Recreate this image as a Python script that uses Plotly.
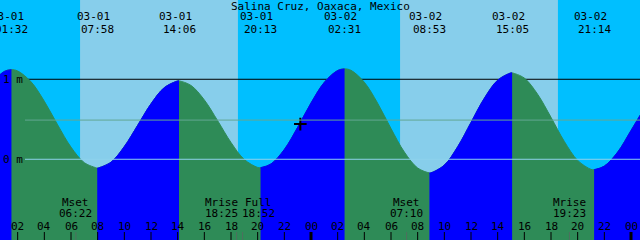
import plotly.graph_objects as go

# ---------------- data ----------------
title = "Salina Cruz, Oaxaca, Mexico"

# tide extremes: hours from 03-01 00:00, height (m)
ext_t = [1.533, 7.967, 14.100, 20.217, 26.517, 32.883, 39.083, 45.233]
ext_h = [1.12, -0.11, 0.98, -0.105, 1.13, -0.17, 1.08, -0.13]
ext_date = ["03-01", "03-01", "03-01", "03-01", "03-02", "03-02", "03-02", "03-02"]
ext_time = ["01:32", "07:58", "14:06", "20:13", "02:31", "08:53", "15:05", "21:14"]

# hourly tide heights (m)
hour_t = list(range(0, 50))
hour_h = [0.949, 1.098, 1.104, 0.969, 0.725, 0.430, 0.152, -0.042, -0.110, -0.036,
          0.160, 0.425, 0.694, 0.896, 0.979, 0.923, 0.742, 0.482, 0.210, -0.003,
          -0.102, -0.058, 0.123, 0.400, 0.704, 0.962, 1.110, 1.112, 0.963, 0.700,
          0.384, 0.091, -0.109, -0.169, -0.073, 0.157, 0.461, 0.763, 0.989, 1.080,
          1.015, 0.812, 0.524, 0.223, -0.014, -0.126, -0.085, 0.090, 0.360, 0.640]

# sun
sunrise_t = [6.68, 30.68]
sunset_t = [18.52, 42.52]

# moon events
moon_t = [6.367, 18.417, 18.867, 31.167, 43.383]
moon_name = ["Mset", "Mrise", "Full", "Mset", "Mrise"]
moon_time = ["06:22", "18:25", "18:52", "07:10", "19:23"]

# hour ticks
tick_t = list(range(2, 49, 2))
tick_labels = ["%02d" % (t % 24) for t in tick_t]

# level lines (m)
level_one = 1.0
level_mean = 0.49
level_zero = 0.0

# current time marker
now_t = 23.2
now_h = 0.44

# ---------------- style / layout ----------------
X0, X1 = 0.675, 48.675
Y0, Y1 = -1.009, 1.991
W, H = 640, 240
NIGHT = "#00BFFF"
DAY = "#87CEEB"
FALL = "#2E8B57"
RISE = "#0000FF"
FONT = dict(family="DejaVu Sans Mono", size=11, color="black")
moon_shift = [0, -15, 15.5, 0, 0]

def py(p):
    return 1 - p / H

# merged curve
pts = sorted(set(list(zip(hour_t, hour_h)) + list(zip(ext_t, ext_h))))
all_t = [p[0] for p in pts]
all_h = [p[1] for p in pts]

fig = go.Figure()
BASE = Y0 - 0.5

# underlay (falling colour) for whole curve
fig.add_trace(go.Scatter(x=[all_t[0], all_t[-1]], y=[BASE, BASE], mode="lines",
                         line=dict(width=0), hoverinfo="skip", showlegend=False))
fig.add_trace(go.Scatter(x=all_t, y=all_h, mode="lines", fill="tonexty",
                         fillcolor=FALL, line=dict(color=FALL, width=1, shape="spline"),
                         hoverinfo="skip", showlegend=False))

# rising segments
bounds = [all_t[0]] + ext_t + [all_t[-1]]
for i in range(len(bounds) - 1):
    a, b = bounds[i], bounds[i + 1]
    seg = [(t, h) for t, h in pts if a - 1e-9 <= t <= b + 1e-9]
    rising = seg[-1][1] > seg[0][1]
    if not rising:
        continue
    fig.add_trace(go.Scatter(x=[a, b], y=[BASE, BASE], mode="lines",
                             line=dict(width=0), hoverinfo="skip", showlegend=False))
    fig.add_trace(go.Scatter(x=[p[0] for p in seg], y=[p[1] for p in seg], mode="lines",
                             fill="tonexty", fillcolor=RISE,
                             line=dict(color=RISE, width=1, shape="spline"),
                             hoverinfo="skip", showlegend=False))

# current time marker
fig.add_trace(go.Scatter(x=[now_t], y=[now_h], mode="markers",
                         marker=dict(symbol="cross-thin", size=9,
                                     line=dict(color="black", width=2)),
                         hoverinfo="skip", showlegend=False))

shapes = []
# night background then day bands
shapes.append(dict(type="rect", xref="paper", yref="paper", x0=0, x1=1, y0=0, y1=1,
                   fillcolor=NIGHT, line=dict(width=0), layer="below"))
for r, s in zip(sunrise_t, sunset_t):
    shapes.append(dict(type="rect", xref="x", yref="paper", x0=r, x1=s, y0=0, y1=1,
                       fillcolor=DAY, line=dict(width=0), layer="below"))
# 1 m line (behind water)
shapes.append(dict(type="line", xref="paper", yref="y", x0=25 / W, x1=1,
                   y0=level_one, y1=level_one, line=dict(color="black", width=1),
                   layer="below"))
# mean and zero lines (above water)
shapes.append(dict(type="line", xref="paper", yref="y", x0=25 / W, x1=1,
                   y0=level_mean, y1=level_mean, line=dict(color="#62A893", width=1),
                   layer="above"))
shapes.append(dict(type="line", xref="paper", yref="y", x0=25 / W, x1=1,
                   y0=level_zero, y1=level_zero, line=dict(color="#8ED2EC", width=1),
                   layer="above"))
# hour ticks
for t, lab in zip(tick_t, tick_labels):
    shapes.append(dict(type="line", xref="x", yref="paper", x0=t, x1=t,
                       y0=0, y1=py(232), line=dict(color="black",
                                                   width=3 if lab == "00" else 1),
                       layer="above"))
# moon ticks
for t in moon_t:
    shapes.append(dict(type="line", xref="x", yref="paper", x0=t, x1=t,
                       y0=0, y1=py(232), line=dict(color="#4F6F5F", width=1),
                       layer="above"))

ann = []
ann.append(dict(text=title, xref="paper", yref="paper", x=0.5, y=py(6),
                xanchor="center", yanchor="middle", showarrow=False, font=FONT))
for t, d, tm in zip(ext_t, ext_date, ext_time):
    ann.append(dict(text=d, xref="x", yref="paper", x=t, xshift=-4, y=py(17),
                    xanchor="center", yanchor="middle", showarrow=False, font=FONT))
    ann.append(dict(text=tm, xref="x", yref="paper", x=t, y=py(29),
                    xanchor="center", yanchor="middle", showarrow=False, font=FONT))
for t, n, tm, sh in zip(moon_t, moon_name, moon_time, moon_shift):
    ann.append(dict(text=n, xref="x", yref="paper", x=t, xshift=sh, y=py(202),
                    xanchor="center", yanchor="middle", showarrow=False, font=FONT))
    ann.append(dict(text=tm, xref="x", yref="paper", x=t, xshift=sh, y=py(213),
                    xanchor="center", yanchor="middle", showarrow=False, font=FONT))
for t, lab in zip(tick_t, tick_labels):
    ann.append(dict(text=lab, xref="x", yref="paper", x=t, y=py(226),
                    xanchor="center", yanchor="middle", showarrow=False, font=FONT))
for lv, lab in [(level_one, "1 m"), (level_zero, "0 m")]:
    ann.append(dict(text=lab, xref="paper", yref="y", x=1 / W, y=lv,
                    xanchor="left", yanchor="middle", showarrow=False, font=FONT))

fig.update_layout(
    width=W, height=H, autosize=False,
    margin=dict(l=0, r=0, t=0, b=0, pad=0),
    paper_bgcolor=NIGHT, plot_bgcolor=NIGHT,
    xaxis=dict(range=[X0, X1], visible=False, showgrid=False, zeroline=False),
    yaxis=dict(range=[Y0, Y1], visible=False, showgrid=False, zeroline=False),
    shapes=shapes, annotations=ann, showlegend=False,
)

fig.write_html("out.html", config={"displayModeBar": False})
